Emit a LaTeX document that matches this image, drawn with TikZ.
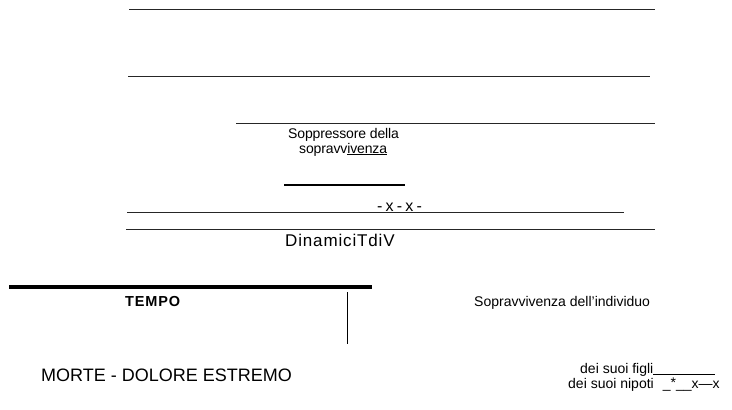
\documentclass[tikz,border=0pt]{standalone}
\usepackage{fontspec}
\setmainfont{Liberation Sans}
\begin{document}
\begin{tikzpicture}[x=1pt,y=-1pt,
  rule/.style={line width=1pt,draw=black!85},
  txt/.style={inner sep=0pt,anchor=base west,font=\fontsize{14}{16}\selectfont}]
\useasboundingbox (0,0) rectangle (732,410);
% horizontal rules
\coordinate (a1) at (129,9);   \coordinate (a2) at (655,9);
\coordinate (b1) at (128,76);  \coordinate (b2) at (650,76);
\coordinate (c1) at (236,123); \coordinate (c2) at (655,123);
\coordinate (d1) at (284,185); \coordinate (d2) at (405,185);
\coordinate (e1) at (127,212); \coordinate (e2) at (624,212);
\coordinate (f1) at (126,229); \coordinate (f2) at (655,229);
\coordinate (g1) at (9,287);   \coordinate (g2) at (372,287);
\coordinate (h1) at (347,292); \coordinate (h2) at (347,344);
\draw[rule] (a1) -- (a2);
\draw[rule] (b1) -- (b2);
\draw[rule] (c1) -- (c2);
\draw[line width=1.6pt] (d1) -- (d2);
\draw[rule] (e1) -- (e2);
\draw[rule] (f1) -- (f2);
\draw[line width=3.5pt] (g1) -- (g2);
\draw[line width=1pt] (h1) -- (h2);
% texts
\node[txt,font=\fontsize{14}{16}\selectfont\addfontfeatures{LetterSpace=-1}] (t1) at (288,138) {Soppressore della};
\node[txt,font=\fontsize{14}{16}\selectfont\addfontfeatures{LetterSpace=-1}] (t2) at (299,153) {sopravv\underline{ivenza}};
\node[txt,font=\fontsize{16}{18}\selectfont\addfontfeatures{LetterSpace=20}] (t3) at (377,211) {-x-x-};
\node[txt,font=\fontsize{17}{19}\selectfont\addfontfeatures{LetterSpace=5}] (t4) at (285,246) {DinamiciTdiV};
\node[txt,font=\fontsize{14.5}{16}\selectfont\bfseries\addfontfeatures{LetterSpace=6}] (t5) at (125,306) {TEMPO};
\node[txt] (t6) at (474,306) {Sopravvivenza dell'individuo};
\node[txt,font=\fontsize{18}{20}\selectfont] (t7) at (41,381) {MORTE - DOLORE ESTREMO};
\node[txt] (t8) at (580,373) {dei suoi figli\rule[-1.5pt]{62pt}{0.7pt}};
\node[txt] (t9) at (568,388) {dei suoi nipoti\hspace{9pt}\_\raisebox{1pt}{*}\_\_x---x};
\end{tikzpicture}
\end{document}
